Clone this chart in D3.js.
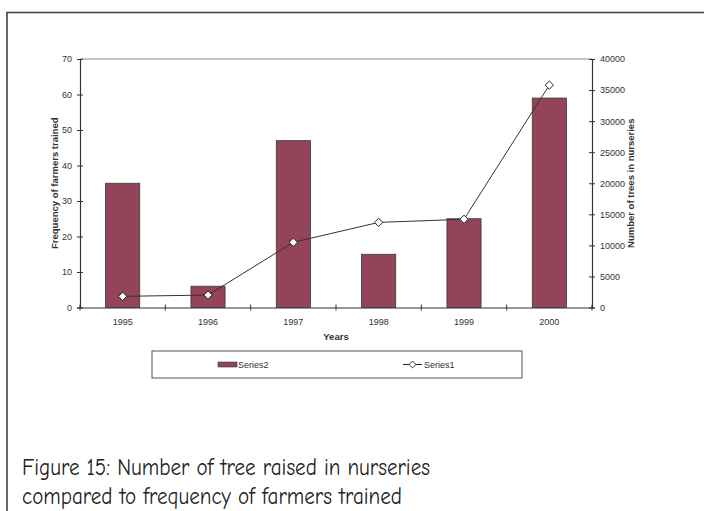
<!DOCTYPE html>
<html><head><meta charset="utf-8">
<script src="https://cdn.jsdelivr.net/npm/d3@7"></script>
<style>body{margin:0;background:#fff}svg{display:block}</style>
</head><body>
<script>
const years = ["1995","1996","1997","1998","1999","2000"];
const series2 = [35, 6, 47, 15, 25, 59];           // bars: frequency of farmers trained
const series1 = [1800, 2000, 10500, 13700, 14200, 35800]; // line: number of trees in nurseries
const leftTicks = [0,10,20,30,40,50,60,70];
const rightTicks = [0,5000,10000,15000,20000,25000,30000,35000,40000];

const W = 704, H = 511;
const svg = d3.select("body").append("svg").attr("width", W).attr("height", H);
svg.append("rect").attr("x",7).attr("y",12.5).attr("width",W+10).attr("height",H+10)
  .attr("fill","#fff").attr("stroke","#444").attr("stroke-width",1.6);

const L = 80, R = 592, T = 59, B = 307.5;
const xb = d3.scaleBand().domain(years).range([L, R]);
const yL = d3.scaleLinear().domain([0,70]).range([B, T]);
const yR = d3.scaleLinear().domain([0,40000]).range([B, T]);

svg.append("line").attr("x1",L).attr("x2",R).attr("y1",T).attr("y2",T).attr("stroke","#888").attr("stroke-width",1);

svg.append("g").selectAll("rect").data(series2).join("rect")
  .attr("x",(d,i)=>xb(years[i]) + xb.bandwidth()*0.3)
  .attr("width", xb.bandwidth()*0.4)
  .attr("y", d=>yL(d)).attr("height", d=>B-yL(d))
  .attr("fill","#934459").attr("stroke","#3a3a3a").attr("stroke-width",0.8);

const font = "'Liberation Sans', Arial, sans-serif";
const fs = 9;
const gl = svg.append("g").attr("transform",`translate(${L},0)`)
  .call(d3.axisLeft(yL).tickValues(leftTicks).tickFormat(d3.format("d")).tickSize(3).tickPadding(5));
gl.selectAll(".tick line").attr("x2",3).attr("x1",-3);
const gr = svg.append("g").attr("transform",`translate(${R},0)`)
  .call(d3.axisRight(yR).tickValues(rightTicks).tickFormat(d3.format("d")).tickSize(3).tickPadding(5));
gr.selectAll(".tick line").attr("x1",-3).attr("x2",3);
const gx = svg.append("g").attr("transform",`translate(0,${B})`)
  .call(d3.axisBottom(xb).tickSize(0).tickPadding(11));
gx.append("g").selectAll("line").data(d3.range(years.length+1)).join("line")
  .attr("x1",i=>L+i*xb.step()).attr("x2",i=>L+i*xb.step()).attr("y1",-3).attr("y2",3)
  .attr("stroke","#333");
[gl,gr,gx].forEach(g=>{
  g.attr("font-family",font);
  g.select(".domain").attr("stroke","#333").attr("stroke-width",1.2);
  g.selectAll(".tick line").attr("stroke","#333");
  g.selectAll("text").style("font-family",font).attr("font-size",fs).attr("fill","#333");
});

const line = d3.line().x((d,i)=>xb(years[i])+xb.bandwidth()/2).y(d=>yR(d));
svg.append("path").datum(series1).attr("d",line).attr("fill","none").attr("stroke","#333").attr("stroke-width",1);
svg.append("g").selectAll("path").data(series1).join("path")
  .attr("d", d3.symbol(d3.symbolDiamond2, 44))
  .attr("transform",(d,i)=>`translate(${xb(years[i])+xb.bandwidth()/2},${yR(d)})`)
  .attr("fill","#fff").attr("stroke","#222").attr("stroke-width",1);

function label(sel){ return sel.style("font-family",font).attr("font-weight","bold").attr("font-size",9.5).attr("fill","#333"); }
label(svg.append("text").attr("transform",`translate(58,${(T+B)/2}) rotate(-90)`).attr("text-anchor","middle"))
  .text("Frequency of farmers trained");
label(svg.append("text").attr("transform",`translate(634,${(T+B)/2}) rotate(-90)`).attr("text-anchor","middle"))
  .text("Number of trees in nurseries");
label(svg.append("text").attr("x",(L+R)/2).attr("y",340).attr("text-anchor","middle")).text("Years");

svg.append("rect").attr("x",152).attr("y",351).attr("width",370).attr("height",27)
  .attr("fill","#fff").attr("stroke","#555").attr("stroke-width",1);
svg.append("rect").attr("x",218).attr("y",362).attr("width",19).attr("height",5)
  .attr("fill","#934459").attr("stroke","#3a3a3a").attr("stroke-width",0.6);
svg.append("text").attr("x",238).attr("y",368).style("font-family",font).attr("font-size",fs).attr("fill","#333").text("Series2");
svg.append("line").attr("x1",403).attr("x2",422).attr("y1",364.5).attr("y2",364.5).attr("stroke","#222");
svg.append("path").attr("d",d3.symbol(d3.symbolDiamond2,30)).attr("transform","translate(412.5,364.5)")
  .attr("fill","#fff").attr("stroke","#222").attr("stroke-width",0.9);
svg.append("text").attr("x",424).attr("y",368).style("font-family",font).attr("font-size",fs).attr("fill","#333").text("Series1");

const capFont = "'Comic Sans MS', 'Comic Neue', 'DejaVu Sans', sans-serif";
svg.append("text").attr("x",22).attr("y",475).style("font-family",capFont).attr("font-size",24).attr("fill","#222")
  .attr("textLength",408).attr("lengthAdjust","spacingAndGlyphs").text("Figure 15: Number of tree raised in nurseries");
svg.append("text").attr("x",22).attr("y",504).style("font-family",capFont).attr("font-size",24).attr("fill","#222")
  .attr("textLength",380).attr("lengthAdjust","spacingAndGlyphs").text("compared to frequency of farmers trained");
</script>
</body></html>
